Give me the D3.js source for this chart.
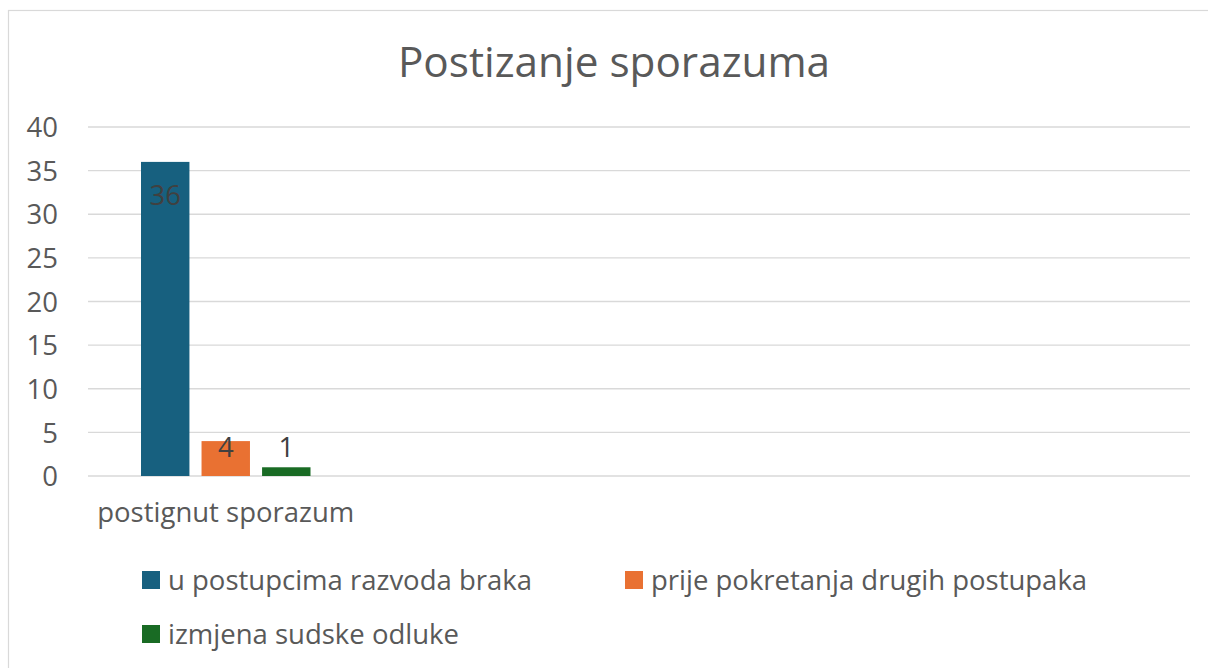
<!DOCTYPE html>
<html><head><meta charset="utf-8">
<script src="https://cdn.jsdelivr.net/npm/d3@7"></script>
<style>body{margin:0;background:#fff}svg{display:block}text{font-family:"Open Sans",sans-serif}</style>
</head><body><svg id="c" width="1208" height="668"></svg>
<script>
const title = "Postizanje sporazuma";
const categories = ["postignut sporazum", "", "", ""];
const seriesNames = ["u postupcima razvoda braka", "prije pokretanja drugih postupaka", "izmjena sudske odluke"];
const seriesColors = ["#17607F", "#E97132", "#196B24"];
const values = [
  [36, null, null, null],
  [4, null, null, null],
  [1, null, null, null]
];
const yTicks = [0, 5, 10, 15, 20, 25, 30, 35, 40];

const svg = d3.select("#c");
const W = 1208, H = 668;
const m = {left: 88, right: 18, top: 127, bottom: 192};
const iw = W - m.left - m.right, ih = H - m.top - m.bottom;
const textCol = "#595959";
const fs = 27.5;

svg.append("rect").attr("x", 8.5).attr("y", 10.5).attr("width", 1300).attr("height", 800)
  .attr("fill", "#fff").attr("stroke", "#D9D9D9").attr("stroke-width", 1.2);

svg.append("text").attr("x", 614).attr("y", 77).attr("text-anchor", "middle")
  .attr("font-size", 42.3).attr("fill", textCol).text(title);

const g = svg.append("g").attr("transform", `translate(${m.left},${m.top})`);
const y = d3.scaleLinear().domain([0, 40]).range([ih, 0]);
const x0 = d3.scaleBand().domain(d3.range(categories.length)).range([0, iw]).paddingInner(0).paddingOuter(0);
const x1 = d3.scaleBand().domain(d3.range(seriesNames.length)).range([53, x0.bandwidth() - 53]).paddingInner(0.2).paddingOuter(0);

g.append("g").selectAll("line").data(yTicks).join("line")
  .attr("x1", 0).attr("x2", iw).attr("y1", d => y(d)).attr("y2", d => y(d))
  .attr("stroke", "#D9D9D9").attr("stroke-width", 1.3);

const yAxis = g.append("g").call(d3.axisLeft(y).tickValues(yTicks).tickSize(0).tickPadding(30));
yAxis.select(".domain").remove();
yAxis.selectAll("text").attr("font-size", fs).attr("fill", textCol).attr("font-family", '"Open Sans",sans-serif').attr("dy", "0.35em");

const xAxis = g.append("g").attr("transform", `translate(0,${ih})`)
  .call(d3.axisBottom(x0).tickFormat(i => categories[i]).tickSize(0).tickPadding(0));
xAxis.select(".domain").remove();
xAxis.selectAll("text").attr("font-size", fs).attr("fill", textCol).attr("font-family", '"Open Sans",sans-serif')
  .attr("dy", null).attr("y", 46);

const bars = [];
values.forEach((arr, s) => arr.forEach((v, c) => { if (v != null) bars.push({s, c, v}); }));

g.selectAll("rect.bar").data(bars).join("rect").attr("class", "bar")
  .attr("x", d => x0(d.c) + x1(d.s)).attr("width", x1.bandwidth())
  .attr("y", d => y(d.v)).attr("height", d => ih - y(d.v))
  .attr("fill", d => seriesColors[d.s]);

g.selectAll("text.lbl").data(bars).join("text").attr("class", "lbl")
  .attr("x", d => x0(d.c) + x1(d.s) + x1.bandwidth() / 2)
  .attr("y", d => Math.min(y(d.v) + 43, ih - 19))
  .attr("text-anchor", "middle").attr("font-size", fs).attr("fill", "#404040")
  .text(d => d.v);

const legPos = [[142, 580], [625, 580], [142, 634]];
const leg = svg.append("g").selectAll("g").data(seriesNames).join("g")
  .attr("transform", (d, i) => `translate(${legPos[i][0]},${legPos[i][1]})`);
leg.append("rect").attr("x", 0).attr("y", -9).attr("width", 18).attr("height", 18).attr("fill", (d, i) => seriesColors[i]);
leg.append("text").attr("x", 26).attr("y", 0).attr("dy", "0.35em").attr("font-size", fs).attr("fill", textCol).text(d => d);
</script></body></html>
